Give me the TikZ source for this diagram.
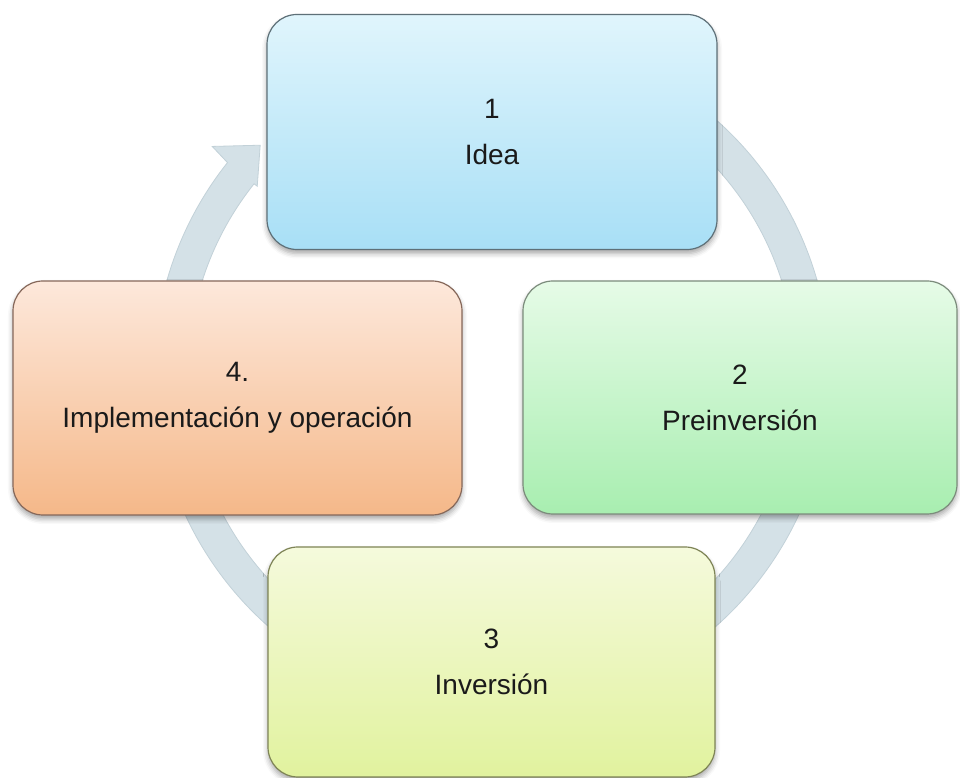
\documentclass[tikz,border=0pt]{standalone}
\usepackage{fontspec}
\setmainfont{Liberation Sans}
\usetikzlibrary{shadows.blur}

\definecolor{ringfill}{HTML}{D4E1E7}
\definecolor{ringedge}{HTML}{C2D1D8}
\definecolor{ideatop}{HTML}{E0F5FC}
\definecolor{ideabot}{HTML}{A8DFF6}
\definecolor{ideaedge}{HTML}{5E7078}
\definecolor{pretop}{HTML}{E6FBE7}
\definecolor{prebot}{HTML}{A8EEB0}
\definecolor{preedge}{HTML}{7C8C7C}
\definecolor{invtop}{HTML}{F5FADC}
\definecolor{invbot}{HTML}{E1F29E}
\definecolor{invedge}{HTML}{7E8456}
\definecolor{imptop}{HTML}{FDE8DB}
\definecolor{impbot}{HTML}{F5B889}
\definecolor{impedge}{HTML}{86685A}
\definecolor{labeltext}{HTML}{1A1A1A}

\begin{document}
\begin{tikzpicture}[x=1pt,y=1pt,
  stage/.style={rounded corners=30pt, inner sep=0pt, line width=1.2pt,
    align=center, text=labeltext,
    font=\fontsize{28pt}{46pt}\selectfont,
    blur shadow={shadow xshift=0pt, shadow yshift=-4pt,
      shadow blur radius=5pt, shadow opacity=35}},
  ringstyle/.style={fill=ringfill, draw=ringedge, line width=0.8pt}
]
\useasboundingbox (0,0) rectangle (960,778);

% circular arrow running clockwise behind the four stages
\coordinate (c) at (492,405);
\path[ringstyle]
  ([shift={(c)}]60:338pt) arc[start angle=60, end angle=-218.5, radius=338pt]
  -- ([shift={(c)}]141:360pt)
  -- ([shift={(c)}]135.5:325pt)
  -- ([shift={(c)}]141.5:300pt)
  -- ([shift={(c)}]141.5:304pt)
  arc[start angle=-218.5, end angle=60, radius=304pt] -- cycle;

% the four stages
\node[stage, minimum width=450pt, minimum height=235pt,
      top color=ideatop, bottom color=ideabot, draw=ideaedge]
  (idea) at (492,646) {1\\Idea};
\node[stage, minimum width=434pt, minimum height=233pt,
      top color=pretop, bottom color=prebot, draw=preedge]
  (pre) at (740,380.5) {2\\Preinversión};
\node[stage, minimum width=447pt, minimum height=230pt,
      top color=invtop, bottom color=invbot, draw=invedge]
  (inv) at (491.5,116) {3\\Inversión};
\node[stage, minimum width=449pt, minimum height=234pt,
      top color=imptop, bottom color=impbot, draw=impedge]
  (imp) at (237.5,380) {4.\\Implementación y operación};
\end{tikzpicture}
\end{document}
